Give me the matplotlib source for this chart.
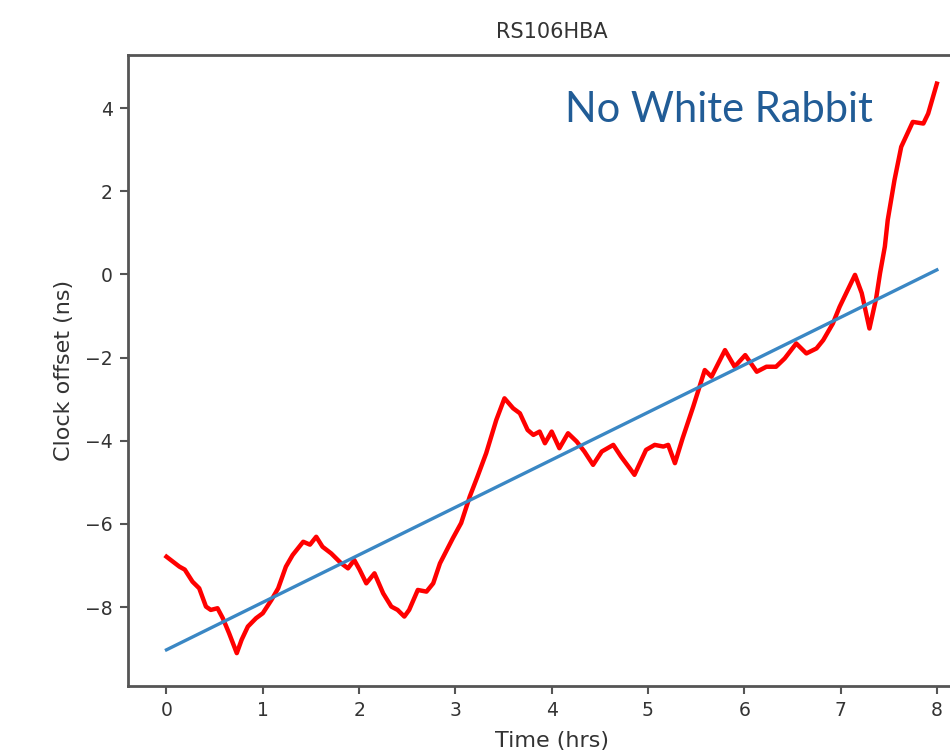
import numpy as np
import matplotlib
matplotlib.use("Agg")
import matplotlib.pyplot as plt

# clock offset trace (hrs, ns)
time_hrs = [0.0, 0.135, 0.19, 0.27, 0.34, 0.41, 0.46, 0.53, 0.585, 0.65, 0.73,
            0.78, 0.845, 0.93, 1.0, 1.09, 1.16, 1.24, 1.31, 1.42, 1.49, 1.555,
            1.62, 1.71, 1.815, 1.885, 1.95, 2.005, 2.075, 2.16, 2.25, 2.335,
            2.40, 2.47, 2.52, 2.61, 2.70, 2.77, 2.84, 2.975, 3.06, 3.15, 3.23,
            3.32, 3.425, 3.51, 3.60, 3.67, 3.75, 3.81, 3.875, 3.93, 4.0, 4.08,
            4.17, 4.26, 4.34, 4.43, 4.52, 4.64, 4.72, 4.81, 4.86, 4.98, 5.07,
            5.16, 5.21, 5.28, 5.36, 5.47, 5.59, 5.66, 5.80, 5.90, 6.01, 6.13,
            6.23, 6.33, 6.42, 6.54, 6.645, 6.75, 6.82, 6.92, 6.99, 7.15, 7.22,
            7.30, 7.37, 7.41, 7.46, 7.49, 7.56, 7.63, 7.75, 7.86, 7.91, 8.0]
offset_ns = [-6.79, -7.03, -7.1, -7.39, -7.55, -7.99, -8.07, -8.03, -8.27, -8.63,
             -9.11, -8.79, -8.47, -8.27, -8.15, -7.83, -7.55, -7.03, -6.75, -6.43,
             -6.5, -6.31, -6.55, -6.71, -6.95, -7.07, -6.87, -7.1, -7.43, -7.19,
             -7.67, -7.99, -8.07, -8.23, -8.07, -7.59, -7.63, -7.43, -6.95, -6.34,
             -5.98, -5.34, -4.86, -4.30, -3.50, -2.98, -3.22, -3.34, -3.74, -3.86,
             -3.78, -4.06, -3.78, -4.18, -3.82, -4.02, -4.26, -4.58, -4.26, -4.10,
             -4.38, -4.66, -4.82, -4.22, -4.10, -4.14, -4.10, -4.54, -3.94, -3.18,
             -2.30, -2.46, -1.82, -2.22, -1.94, -2.34, -2.22, -2.22, -2.02, -1.66,
             -1.90, -1.78, -1.58, -1.18, -0.78, -0.01, -0.45, -1.30, -0.57, 0.03,
             0.67, 1.31, 2.27, 3.07, 3.67, 3.63, 3.87, 4.59]

# linear fit end points
fit_x = [0.0, 8.0]
fit_y = [-9.03, 0.11]

station = "RS106HBA"
note = "No White Rabbit"

fig = plt.figure(figsize=(9.5, 7.54), dpi=100)
ax = fig.add_axes([0.1347, 0.0902, 0.892, 0.8369])

ax.plot(time_hrs, offset_ns, color="#ff0000", lw=3.2, solid_joinstyle="round")
ax.plot(fit_x, fit_y, color="#3a87c4", lw=2.4)

ax.set_xlim(-0.4, 8.4)
ax.set_ylim(-9.9, 5.28)
ax.set_xticks(range(0, 9))
ax.set_yticks([-8, -6, -4, -2, 0, 2, 4])
ax.set_yticklabels(["\u22128", "\u22126", "\u22124", "\u22122", "0", "2", "4"])

ax.tick_params(labelsize=13.5, labelcolor="#333333", color="#555555",
               length=6, width=1.5, pad=5)
for s in ax.spines.values():
    s.set_color("#555555")
    s.set_linewidth(2)

ax.set_title(station, fontsize=15, color="#333333", pad=12)
ax.set_xlabel("Time (hrs)", fontsize=16, color="#333333", labelpad=7.5)
ax.set_ylabel("Clock offset (ns)", fontsize=16, color="#333333", labelpad=8)

ax.text(0.5155, 0.913, note, transform=ax.transAxes, family="Lato",
        fontsize=30, color="#215c96", ha="left", va="center")

fig.savefig("out.png", dpi=100)
